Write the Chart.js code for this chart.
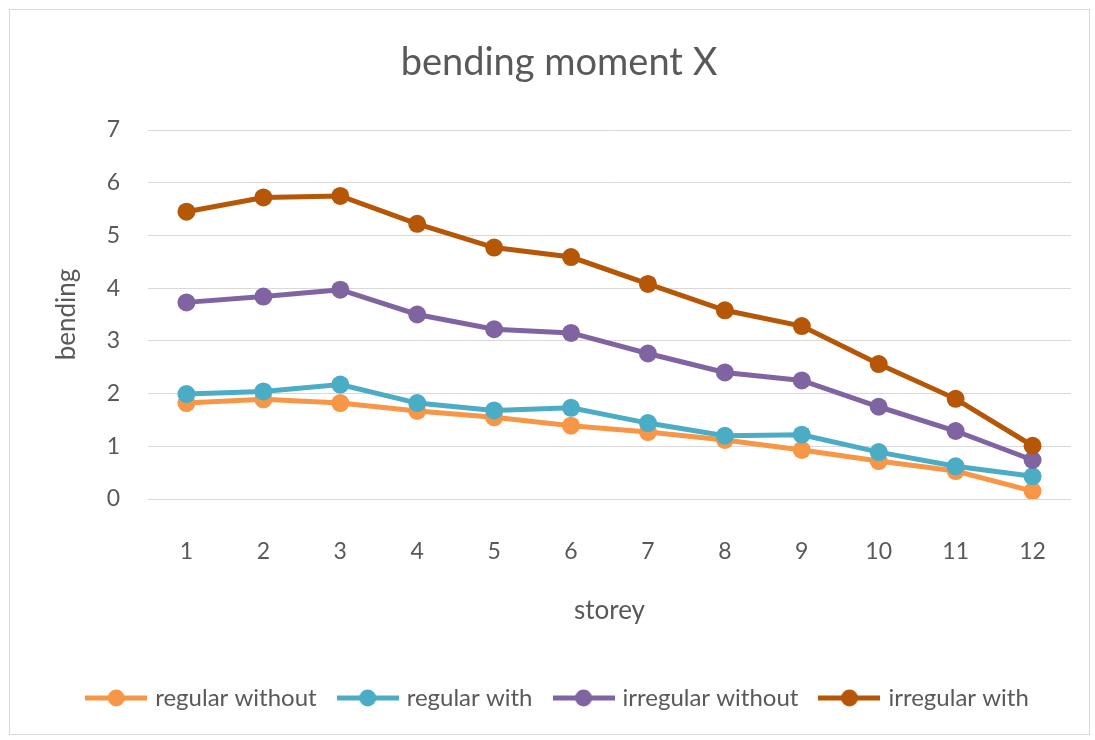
<!DOCTYPE html>
<html lang="en">
<head>
<meta charset="UTF-8">
<title>bending moment X</title>
<script src="https://cdn.jsdelivr.net/npm/chart.js@4.4.0/dist/chart.umd.min.js"></script>
<style>
    body { margin: 0; background: #fff; }
    #box { position: absolute; left: 9px; top: 9px; width: 1079px; height: 724px; border: 1px solid #d9d9d9; }
</style>
</head>
<body>
<div id="box"><canvas id="chart" width="1079" height="724"></canvas></div>
<script>
const storeys = ['1', '2', '3', '4', '5', '6', '7', '8', '9', '10', '11', '12'];
const regularWithout = [1.82, 1.89, 1.82, 1.67, 1.55, 1.39, 1.27, 1.12, 0.93, 0.72, 0.53, 0.15];
const regularWith = [1.99, 2.04, 2.17, 1.82, 1.68, 1.73, 1.44, 1.20, 1.22, 0.89, 0.62, 0.43];
const irregularWithout = [3.73, 3.84, 3.97, 3.50, 3.22, 3.15, 2.76, 2.40, 2.25, 1.75, 1.29, 0.74];
const irregularWith = [5.45, 5.72, 5.75, 5.22, 4.77, 4.59, 4.08, 3.58, 3.28, 2.56, 1.90, 1.01];

const textColor = '#595959';
const fontName = 'Lato';

// little line + dot icon like the excel legend
function marker(color) {
    const c = document.createElement('canvas');
    c.width = 62; c.height = 20;
    const g = c.getContext('2d');
    g.strokeStyle = color;
    g.lineWidth = 5;
    g.beginPath(); g.moveTo(0, 10); g.lineTo(62, 10); g.stroke();
    g.fillStyle = color;
    g.beginPath(); g.arc(31, 10, 8.5, 0, Math.PI * 2); g.fill();
    return c;
}

function series(label, data, color, order) {
    return {
        label: label,
        data: data,
        borderColor: color,
        backgroundColor: color,
        borderWidth: 5,
        pointRadius: 9,
        pointHoverRadius: 9,
        pointBorderWidth: 0,
        pointStyle: 'circle',
        tension: 0,
        order: order,
        legendIcon: marker(color)
    };
}

new Chart(document.getElementById('chart').getContext('2d'), {
    type: 'line',
    data: {
        labels: storeys,
        datasets: [
            series('regular without', regularWithout, '#F79646', 4),
            series('regular with', regularWith, '#4BACC6', 3),
            series('irregular without', irregularWithout, '#8064A2', 2),
            series('irregular with', irregularWith, '#B65708', 1)
        ]
    },
    options: {
        responsive: false,
        animation: false,
        layout: { padding: { left: 37, right: 18, top: 0, bottom: 14 } },
        plugins: {
            tooltip: { enabled: false },
            title: {
                display: true,
                text: 'bending moment X',
                color: textColor,
                font: { family: fontName, size: 38, weight: 'normal' },
                padding: { top: 30, bottom: 44.4 }
            },
            legend: {
                position: 'bottom',
                labels: {
                    color: textColor,
                    font: { family: fontName, size: 24 },
                    usePointStyle: true,
                    pointStyleWidth: 54,
                    padding: 24,
                    generateLabels: function(chart) {
                        return chart.data.datasets.map((ds, i) => ({
                            text: ds.label,
                            fontColor: textColor,
                            pointStyle: ds.legendIcon,
                            lineWidth: 0,
                            strokeStyle: ds.borderColor,
                            fillStyle: ds.borderColor,
                            hidden: false,
                            datasetIndex: i
                        }));
                    }
                }
            }
        },
        scales: {
            x: {
                offset: true,
                grid: { display: false, drawTicks: false },
                border: { display: false },
                ticks: { color: textColor, padding: 39, font: { family: fontName, size: 23 } },
                title: {
                    display: true,
                    text: 'storey',
                    color: textColor,
                    font: { family: fontName, size: 26 },
                    padding: { top: 0, bottom: 36 }
                },
                afterFit: function(scale) { scale.height = 163; }
            },
            y: {
                min: 0,
                max: 7,
                grid: { color: '#d9d9d9', lineWidth: 1, drawTicks: false },
                border: { display: false },
                ticks: { stepSize: 1, color: textColor, padding: 28, font: { family: fontName, size: 23 } },
                title: {
                    display: true,
                    text: 'bending',
                    color: textColor,
                    font: { family: fontName, size: 26 },
                    padding: { top: 4, bottom: 0 }
                },
                afterFit: function(scale) { scale.width = 101; }
            }
        }
    }
});
</script>
</body>
</html>
